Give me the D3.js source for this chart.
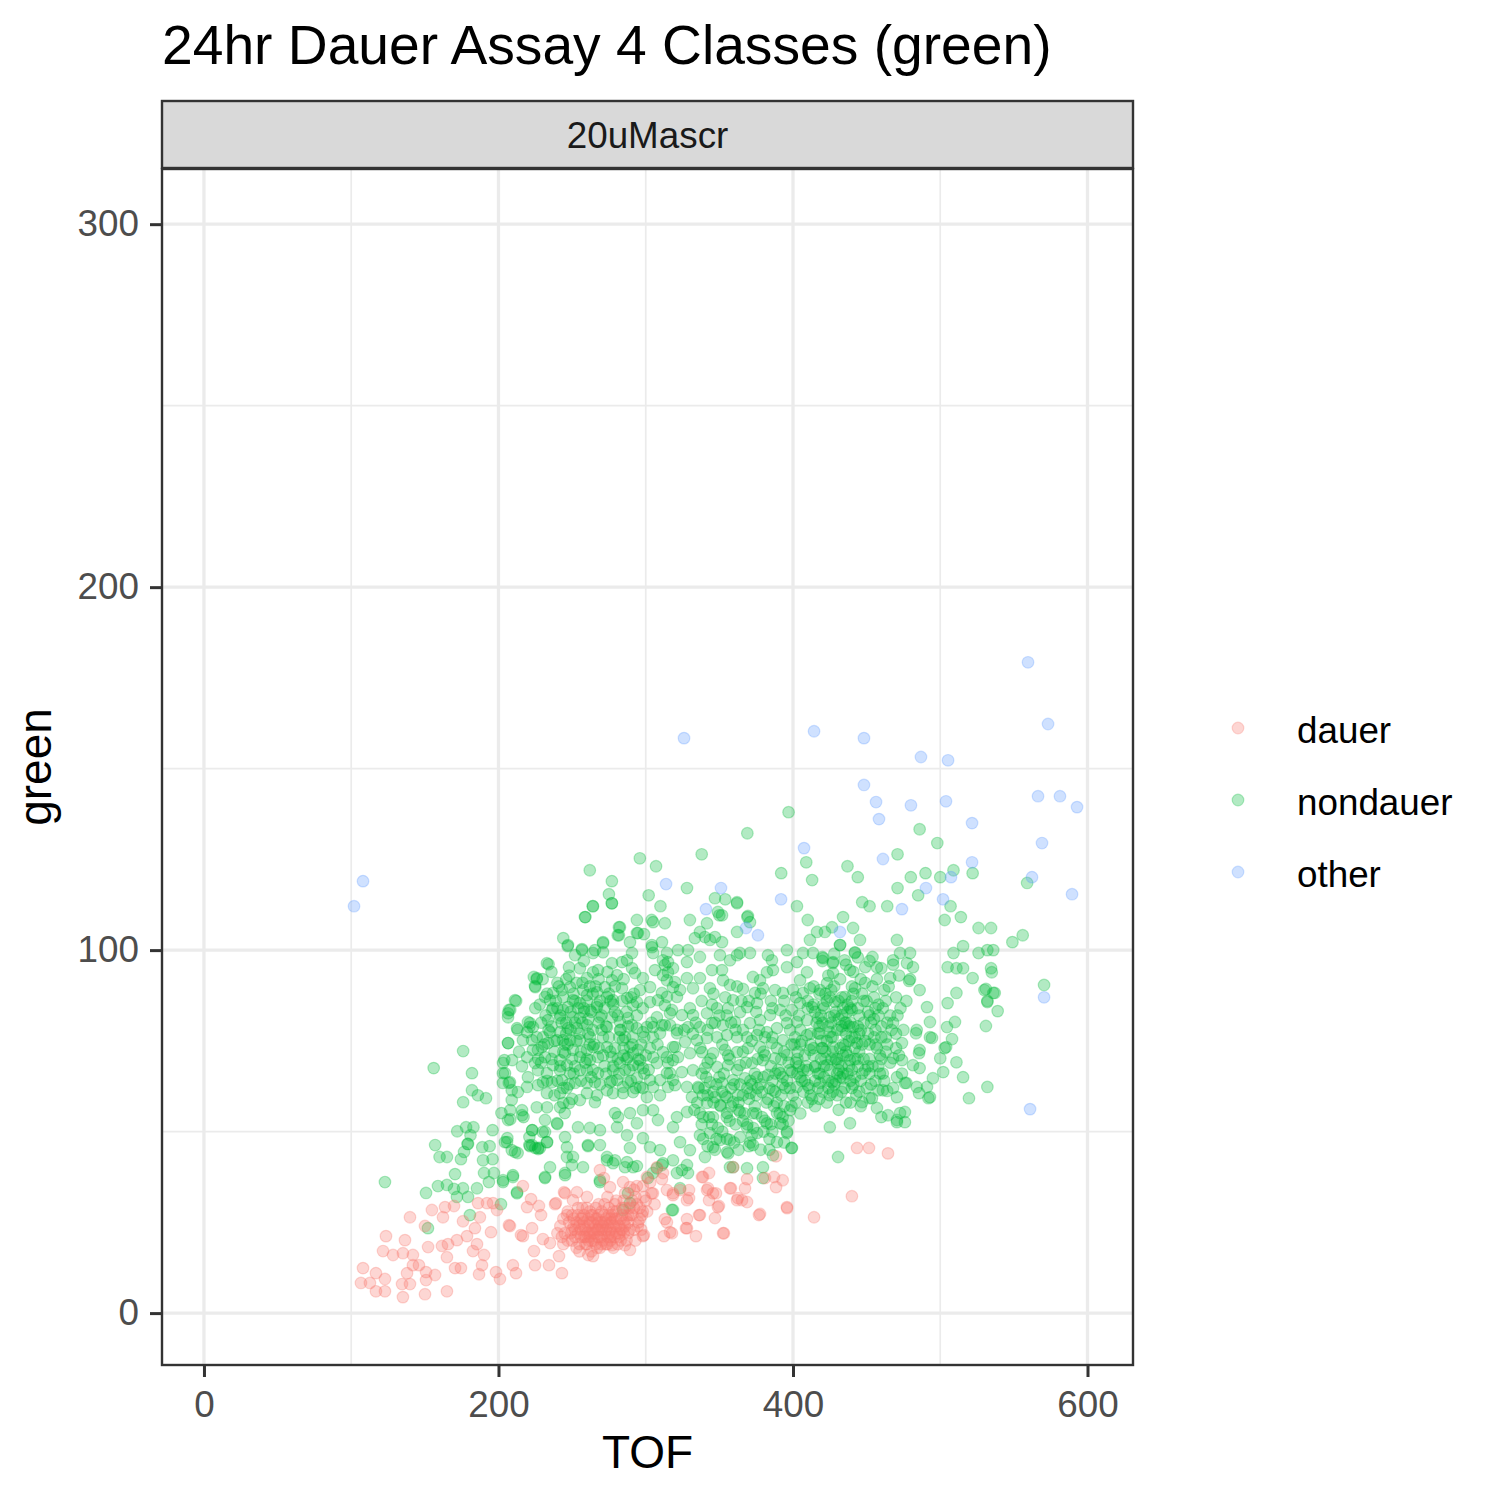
<!DOCTYPE html>
<html lang="en">
  <head>
    <meta charset="UTF-8"/>
    <title>24hr Dauer Assay 4 Classes (green)</title>
    <script src="https://d3js.org/d3.v7.min.js"></script>
    <style>
      body { margin: 0; background: #fff; }
      text { font-family: 'Liberation Sans', Arial, sans-serif; }
      .grid-major { stroke: #ebebeb; stroke-width: 3.3; }
      .grid-minor { stroke: #ebebeb; stroke-width: 1.7; }
      .axis .domain { display: none; }
      .axis line { stroke: #333333; stroke-width: 3; }
      .axis text { fill: #4d4d4d; font-size: 36.8px; }
    </style>
  </head>
  <body>
    <script>

      const titleText = "24hr Dauer Assay 4 Classes (green)"
      const facetLabel = "20uMascr"
      const xLabel = "TOF"
      const yLabel = "green"

      const classes = ["dauer", "nondauer", "other"]
      const classColors = ["#F8766D", "#00BA38", "#619CFF"]

      const xTicks = [0, 200, 400, 600]
      const yTicks = [0, 100, 200, 300]
      const xMinor = [100, 300, 500]
      const yMinor = [50, 150, 250]

      // [TOF, green]
      const otherPts = [
        [101.9,112.1],[108,119],[326,158.4],[313.8,118.2],[351.1,117.1],[340.9,111.3],[368.1,106.1],[376.2,104.1],
        [391.9,114],[407.5,128.1],[414.3,160.3],[431.9,105],[448.2,158.4],[448.2,145.5],[456.4,140.8],[458.4,136.1],
        [461.1,125.1],[480.1,139.9],[486.9,153.2],[490.3,117.1],[501.9,114],[503.9,141],[505.3,152.3],[507.3,120.1],
        [521.6,135],[521.6,124.2],[559.6,179.3],[573.2,162.3],[566.4,142.4],[581.3,142.4],[592.9,139.4],[569.1,129.5],
        [562.3,120.1],[589.5,115.4],[570.5,87],[561,56.2],[474,111.3]
      ]

      const dauerPts = [
        [108,12.4],[106.6,8.3],[112.7,8.3],[116.8,11],[116.8,6],[122.9,9.4],[122.9,6],[123.6,21.2],[121.6,17.1],[128.4,16],
        [135.1,16.5],[136.5,20.1],[135.1,4.4],[134.5,8],[139.9,8],[137.9,11],[141.9,16],[141.9,13.2],[146,13.2],[150.1,5.2],
        [150.8,9.1],[150.8,11.3],[156.9,10.5],[152.2,18.2],[150.1,24],[139.9,26.4],[154.8,28.4],[161.6,18.5],[165,6],[165,15.4],
        [162.3,26.4],[163.7,29.2],[165.7,19],[171.8,20.1],[170.5,12.4],[174.5,12.4],[175.9,25.3],[169.8,29.5],[178.6,21.2],[182.7,17.1],
        [184,23.4],[185.4,19],[186.8,10.7],[188.8,13.2],[190.2,16],[187.4,26.4],[186.1,30.3],[192.2,30.3],[194.9,22.3],[196.3,30.3],
        [198.3,11.3],[201,9.4],[199,28.4],[207.1,24.2],[209.8,13.2],[211.9,11],[216.6,35],[216.6,21.2],[219.4,29.2],[222.1,31.4],
        [222.8,23.4],[224.1,17.1],[224.8,13.2],[227.5,29.5],[228.9,27],[230.2,20.4],[234.3,13.2],[235,19.3],[239,30.3],[241.1,15.7],
        [243.1,11],[244.5,33.3],[246.5,27],[253.3,33.3],[250.6,31.1],[260.1,32],[264.2,15.7],[277.1,18.7],[285.9,18.7],[289.3,17.4],
        [298.1,21.2],[294.7,24],[297.5,27],[289.3,34.7],[284.6,36.1],[304.9,33],[311,36.9],[313,25.9],[312.4,21.2],[316.5,22.3],
        [318.5,33],[328,25.9],[328,23.4],[329.4,33.9],[329.4,31.7],[334.1,21.2],[336.8,27],[338.9,37.5],[343,38.6],[343,31.1],
        [341.6,33.9],[347,26.2],[349.7,29.5],[347.7,33],[352.5,22],[357.9,34.4],[362,31.1],
        [443.5,45.5],[451.6,45.5],[464.5,44],[440,32.2],[414.3,26.4],[396,28.9],[377.6,27.3],[365.4,31.1],[367.4,34.4],[381,37.2],[393,36.6],
        [207.8,24],[215.3,21.5],[238.4,30],[245.2,33],[268.9,39.4],[271.6,37.2],[275.7,34.7],[294,35],[300.8,37.5],[307.6,40.2],
        [311.7,38.6],[314.4,33.9],[318.5,32.5],[323.3,33.9],[328,31.1],[338.2,37.5],[342.3,34.4],[345.7,33],[349,29.2],[357.2,34.4],
        [362.6,31.7],[368.8,30.6],[368.8,36.9],[359.3,40.2],[376.9,27],[387.1,37.5],[388.5,34.7],[395.9,29.2],[388.5,43.2],[353.1,22],
        [327.3,23.4],[336.2,27],[317.8,22],[314.4,25],[298.8,21.5],
        [245,22],[248,25],[250,20],[252,23],[254,27],[256,21],[258,24],[259,19],[261,26],[262,22],[264,25],[265,20],[267,23],
        [268,27],[270,21],[271,24],[273,26],[274,19],[276,23],[277,25],[279,21],[280,28],[282,24],[283,26],[285,22],[286,29],
        [288,25],[290,27],[292,23],[294,30],[296,26],[298,28],[300,31],[253,18],[257,29],[263,17],[269,18],[275,29],[281,19],
        [287,20],[291,31],[242,24],[244,19],[247,28],[251,26],[255,24],[260,22],[266,26],[272,22],[278,24],[284,27],[289,23],
        [295,25],[262,28],[268,30],[274,32],[280,31],[286,33],[292,34],[298,35],[304,33],[258,21],[264,23],[270,25],[276,21],
        [249,22],[255,19],[261,24],[267,21],[273,23],[279,26],[285,25],[257,26],[263,20],[269,24],[275,27],
        [247,20],[251,24],[254,22],[256,26],[259,23],[261,20],[263,27],[266,24],[268,21],[270,28],[272,25],[275,22],[277,27],
        [280,24],[282,21],[284,29],[287,26],[289,29],[291,27],[293,32],[296,29],[299,32],[301,28],[303,36],[306,30],[285,31],
        [279,30],[272,30],[266,29],[260,29],[254,29],[250,27],[244,26],[240,22],[243,21],[255,17],[261,16],[267,18],[273,19],
        [278,18],[283,20],[288,22],[293,20],[297,23],[264,22],[270,23],[276,25],[258,25],[252,21],[267,26],
        [256,23],[259,21],[262,25],[265,22],[268,25],[271,20],[274,24],[277,22],[280,26],[283,23],[260,19],[266,19],[272,27],
        [278,28],[264,27],[258,27],[270,19],[276,20],[282,22],[286,24],[253,25],[250,23],[262,21],[268,23],[274,21],[280,22],
        [288,27],[292,29],[284,23],[276,26]
      ]

      const nondauerPts = [
        // sparse left / upper left
        [156,67.5],[176,72.2],[182,66.1],[182,61.4],[186,60],[191.5,59.2],[176,58.1],[157,46.3],[172,50.1],[178,51.2],
        [183,51.2],[181,49],[196,50.4],[189,45.7],[194,46],[179,46.6],[174.5,42.4],[165,43],[160,43],[189.5,42.1],
        [196,42.4],[202,55.1],[206.5,74.4],[204,69.7],[203,66.1],[203,63.4],[207,63.4],[209,61.4],[209,58.7],[208,55.9],
        [208,53.4],[206,48.2],[209,44.9],[213,44.1],[216,55.9],[217,54],[221,48.5],[223,50.4],[225,45.5],[227,45.2],
        [221,46.3],[230,49.9],[233,47.1],[226,56.7],[233,56.7],[240,52.1],[245,55.1],[244,57.9],[248,57.9],[206.5,82.6],
        [208,83.5],[212,86],[213,78],[220,80.2],[221,78.8],[224,92.6],[226,92],[225,89.8],[234,96.1],[244,103.3],
        [247,101.1],[259,109.1],[264,112.1],[262,122],[277,119],[275,115.4],[277,112.9],[296,125.3],[307,123.1],[302,115.1],
        [310,112.1],[282.5,106.3],[281,104.1],[294,108.3],[304,108.3],[313,107.4],[311,102.2],
        [252,98.6],[256.7,100.3],[264.2,99.2],[271,101.9],[294.7,104.7],[304.2,100.8],[311.7,97.2],
        // sparse upper / right
        [397,138],[369,132.2],[338,126.4],[486,133.3],[498,129.5],[471,126.4],[409,124.2],[392,121.2],[413,119.3],[437,123.1],
        [444,120.1],[328,117.1],[347,114.3],[354,114],[362,113.2],[350,109.6],[369,109.1],[330,108.3],[402.7,112.1],[410,108.3],
        [434,109.1],[447,113.2],[452,112.1],[464,112.1],[471,117.1],[480,120.1],[490,121.2],[500,120.1],[509,122],[522,121.2],
        [485,115.1],[507,112.1],[514,109.1],[503,108.3],[526,106.1],[534.5,106.1],[556,104.1],[549,102.2],[559,118.5],[532,100],
        [526,99.2],[536,100],[515.5,101.1],[509,99.2],[505,95.3],[511,95],[515.5,95],[522,92.3],[534.5,95],[535,93.9],
        [530,89],[537,88.2],[532,85.7],[539,83.2],[531,79.1],[570.5,90.4],[511,88.2],[505,85.4],[510,80.2],[504.6,78.8],
        [508,75.5],[503,73],[500,70.2],[511,69.1],[515.5,65],[502,66.4],[532,62.3],[519.5,59.2],[495,64.7],[491,62.3],
        [492,59.2],[485.6,60.6],[484,62.3],[477,63.4],[476,55.4],[470.6,52.6],[464.5,54.5],[461,61.4],[452,59.2],[430.6,43],
        [399,45.5],
        [531,89.3],[536,88.2],[532,86],[504,73.3],[493,59.5],[479.5,92],[486,89],[491,84.3],[493,80.2],[484,78],
        [483.5,77.1],[493,76],[494.4,75.8],[486,72.5],[485.6,71.6],[486,67.5],[474,74.4],[474,69.7],[468,70.2],[481.5,68.3],
        [470.6,65],[476,63.4],[470.6,59.5],[464,61.2],[458,61.4],[457,56.5],[460,54],[472.7,55.1],[476,52.6],[470.6,53.2],
        [447,58.1],[453.6,59.2],[438.7,52.3],[425,51.2],[478.8,91.5],[481.5,95.3],[477.4,96.4],[472.7,99.2],[466,92.3],[468,97.2],
        [479.5,99.2],[442,99.2],[454,98.1],[449,95.3],[457,95.3],[435,97.2],[427,96.4],[420,98.1],[432,101.4],[445.5,102.8],
        [470.6,102.8],
        // left blob
        [264.2,112.1],[277,112.9],[258.7,109.1],[305,107.7],[281.8,106.3],[281.8,104.1],[294,104.7],[298.8,104.4],[247.2,101.4],[256.7,100],
        [265.5,100],[271,102.2],[271,99.4],[289.3,102.2],[290.7,99.2],[304.2,101.4],[305,99.2],[287.3,97.2],[283.9,96.7],[232.9,96.4],
        [226.1,92.3],[224.8,90.1],[247.9,95.3],[255.3,95],[260.1,92.3],[264.2,93.9],[267.6,94.5],[277.1,96.4],[280.5,93.1],[277.1,91.7],
        [290.7,95],[292.7,93.7],[298.1,92.3],[302.9,89.8],[296.1,89],[306.3,94.5],[313,95.9],[315.1,93.9],[314.4,91.7],[311,88.2],
        [318.5,89.8],[321.2,87.1],[243.1,89],[248.6,89.8],[257.4,89],[260.1,87.6],[266.9,88.4],[272.3,89.8],[273.7,87.1],[277.8,86.2],
        [283.9,89.5],[287.3,86.8],[291.4,84.8],[294,85.7],[302.9,85.7],[308.3,86.2],[313,84.8],[317.8,83.5],[307.6,81.5],[305,78.8],
        [311,79.3],[316.5,79.3],[309.7,77.1],[305,76],[300.8,78.8],[298.1,77.4],[294,78.5],[287.9,81.3],[290.7,79.3],[282.5,80.2],
        [282.5,78],[284.6,75.2],[289.3,73.3],[291.4,71.6],[287.9,70.5],[294.7,72.5],[296.1,69.7],[291.4,68.3],[298.1,67.5],[305,70.5],
        [307.6,68.9],[311.7,71.9],[315.1,68.9],[314.4,66.1],[309.7,64.2],[302.9,64.2],[305,62.3],[294,64.7],[287.9,63.6],[284.6,62.3],
        [280.5,64.2],[277.8,66.9],[282.5,68.9],[277.1,70.5],[273.7,73.3],[271,76],[273.7,78.8],[277.1,81.5],[268.9,81.5],[266.9,84.3],
        [262.1,83.5],[255.3,85.4],[250.6,86.2],[247.2,84.3],[243.8,83.5],[241.8,81.3],[250.6,81.5],[255.3,81.3],[260.1,79.3],[253.3,78.5],
        [247.2,78.5],[241.8,77.4],[243.8,75.2],[239.7,75.2],[248.6,75.2],[255.3,75.2],[262.1,76],[264.2,73.3],[260.1,72.5],[267.6,70.5],
        [262.1,69.7],[255.3,70.5],[250.6,72.5],[245.2,71.6],[241.8,69.7],[246.5,68.3],[241.8,66.9],[237,68.3],[231.6,70.5],[229.5,73.3],
        [226.8,72.5],[233.6,74.4],[230.2,76],[235,77.4],[233.6,80.7],[236.3,83.5],[235,86.2],[231.6,87.1],[237,88.2],[223.4,78.8],
        [221.4,79.9],[219.4,77.4],[222.8,75.2],[216.6,75.2],[223.4,72.5],[219.4,70.5],[224.8,68.9],[226.8,66.9],[232.9,66.1],[236.3,63.6],
        [230.2,63.6],[243.1,64.2],[248.6,66.1],[255.3,66.9],[260.1,66.9],[267.6,66.1],[265.5,63.6],[260.1,63.4],[252,63.4],[246.5,62],
        [241.8,60.6],[232.9,60.6],[226.8,62.8],[219.4,62.3],[213.2,60.9],[207.8,63.6],[204.4,66.1],[203.1,68.9],[209.2,69.7],[206.5,74.4],
        [212.6,78.5],[211.2,86.2],[207.1,83.5],[206.5,81.5],[275.7,63.6],[273.7,61.4],[277.8,60.6],[284.6,60.6],[291.4,60.9],[296.1,62.3],
        [300.8,59.5],[309.7,60],[315.1,62.3],[318.5,64.2],[318.5,69.7],[319.9,73.3],[321.2,77.1],[260.1,60.6],[266.9,60],
        [252,86],[258,83],[246,80],[270,78],[262,74],[250,70],[276,72],[286,76],[240,84],[264,88],
        [228,85],[232,82],[236,79],[239,86],[243,80],[246,77],[249,83],[252,80],[255,77],[258,84],[261,81],[264,78],[267,85],
        [270,82],[273,79],[276,86],[279,83],[282,76],[285,73],[288,79],[291,76],[294,82],[297,74],[300,71],[238,72],[242,68],
        [247,74],[251,66],[256,72],[259,69],[263,65],[268,73],[272,68],[277,64],[281,70],[286,67],[290,64],[295,70],[299,66],
        [303,73],[230,92],[236,94],[241,90],[246,92],[253,91],[258,97],[262,90],[268,92],[274,94],[279,90],[285,92],[292,88],
        [298,84],[304,80],[308,74],[226,76],[229,69],[233,64],[238,60],[244,62],[250,59],[216,68],[220,65],[214,72],
        [233,88],[237,84],[240,91],[244,87],[248,93],[251,88],[254,84],[257,91],[260,86],[263,83],[266,90],[269,86],[272,84],
        [275,88],[278,85],[281,82],[284,86],[287,83],[290,87],[234,78],[238,75],[242,82],[245,74],[249,78],[253,75],[257,80],
        [261,77],[265,74],[268,80],[271,71],[275,76],[279,73],[283,78],[287,70],[291,74],[295,68],[299,76],[236,70],[240,64],
        [244,72],[248,63],[252,68],[256,64],[260,70],[264,67],[269,63],[273,66],[278,68],[282,66],[285,71],[289,67],[293,62],
        [298,62],[302,67],[229,80],[225,84],[231,74],[227,70],
        // middle
        [336.8,105],[341.6,107.4],[351.8,109.6],[349,110.5],[362,112.9],[369.4,109.4],[362,105],[370.8,107.7],[440.8,106.1],[333.4,103.3],
        [340.2,103.6],[343.6,102.8],[347,103.6],[351.8,102.2],[364,99.2],[370.8,99.2],[357.2,97.2],[362,98.6],[350.4,98.6],[336.8,98.1],
        [328.7,100],[321.9,100],[314.4,99.2],[328,96.7],[318.5,95],[315.1,96.7],[311.7,93.1],[319.9,91.2],[328,92.3],[336.8,92.3],
        [345,94.5],[351.8,94.5],[352.5,91.7],[357.2,90.4],[343.6,89.5],[332.1,89.5],[323.3,89],[314.4,87.1],[366,89.3],[359.3,86.2],
        [372.8,92.6],[377.6,91.7],[382.3,93.9],[386.4,94.5],[385.7,97.2],[383,98.6],[395.9,100],[395.9,95.3],[402.7,96.7],[404.8,91.7],
        [409.5,93.9],[406.8,99.2],[413.6,99.2],[411.5,102.8],[416.3,105],[421.7,105],[426.5,106.3],[431.9,101.4],[420.4,97.8],[427.2,96.7],
        [442.1,99.4],[438.7,94.5],[427.2,93.7],[423.1,90.9],[418.3,89],[411.5,89.5],[406.8,88.2],[400,89],[393.2,88.2],[387.8,89],
        [379.6,89.5],[374.2,88.2],[375.6,85.4],[368.8,84.3],[364,82.9],[355.9,84],[348.4,84],[341.6,82.6],[332.1,82.1],[324.6,82.1],
        [316.5,82.6],[313,79.3],[321.2,78],[328.7,78.8],[336.8,78.8],[345,79.9],[352.5,79.3],[360.6,80.2],[370.8,79.9],[377.6,80.7],
        [384.4,82.1],[391.2,83.5],[399.3,83.5],[404.8,85.4],[412.9,84.3],[420.4,84.8],[428.5,85.7],[435.3,87.1],[442.1,89.5],[440,83.5],
        [433.3,82.1],[425.1,81.5],[417,81.3],[409.5,80.7],[402.7,80.2],[395.9,79.9],[389.1,78.5],[382.3,77.4],[375.6,76.6],[368.8,76],
        [362,76],[355.2,76.6],[348.4,76],[341.6,75.8],[334.8,75.2],[326.7,74.7],[318.5,73.3],[314.4,70.5],[321.9,70.5],[330,71.6],
        [338.2,71.9],[345.7,71.6],[353.8,72.5],[362,71.9],[369.4,73],[377.6,73.3],[385.7,74.4],[393.2,75.2],[401.4,76],[409.5,76.6],
        [417,77.1],[425.1,77.4],[433.3,78],[440.8,78.8],[443.5,74.4],[435.3,73.8],[427.2,73.3],[419.7,73],[411.5,72.5],[403.4,71.9],
        [395.9,71.1],[387.8,70.2],[379.6,69.7],[372.2,68.9],[364,68.3],[355.9,68.3],[348.4,67.8],[340.2,67.5],[332.1,66.9],[324.6,66.4],
        [316.5,66.1],[319.9,62.8],[328,62.3],[335.5,62.3],[343.6,63.6],[351.8,63.4],[359.3,64.2],[367.4,64.7],[375.6,65],[383,65.6],
        [391.2,66.1],[399.3,66.4],[406.8,66.9],[414.9,67.8],[423.1,68.3],[430.6,68.9],[438.7,69.7],[442.1,65],[434,64.7],[426.5,63.6],
        [418.3,63.4],[410.2,62.8],[402.7,62.3],[394.6,62],[386.4,61.4],[378.9,60.9],[370.8,60.6],[362.6,60],[355.2,59.5],[347,59.5],
        [338.9,60],[331.4,59.5],
        [332,77],[337,73],[342,69],[347,80],[352,74],[357,70],[361,78],[366,72],[371,64],[376,70],[381,76],[385,68],[389,73],
        [393,63],[397,69],[401,74],[405,65],[408,71],[412,77],[415,64],[419,70],[423,75],[427,61],[431,67],[436,72],[440,62],
        [444,68],[335,58],[341,65],[346,61],[353,66],[358,62],[363,58],[369,62],[374,57],[378,63],[383,59],[388,66],[392,60],
        [396,64],[402,58],[407,61],[413,59],[418,66],[424,64],[429,70],[434,66],[438,75],[345,85],[355,82],[365,86],[375,83],
        [385,86],[395,82],[405,78],[415,83],[425,87],[435,80],[445,77],[338,52],[352,50],[366,53],[380,50],[393,52],[342,46],
        [356,44],[370,46],[384,45],
        [372,75],[377,78],[381,71],[386,76],[390,67],[394,72],[398,78],[402,69],[406,75],[410,67],[414,73],[418,79],[422,70],
        [426,76],[430,66],[434,71],[438,79],[442,70],[447,74],[451,68],[455,76],[459,66],[463,72],[375,60],[380,65],[384,62],
        [389,58],[393,65],[398,62],[403,66],[408,64],[412,60],[417,62],[421,65],[425,60],[429,64],[433,61],[437,66],[441,63],
        [445,61],[449,67],[453,63],[420,80],[428,82],[436,77],[444,79],[452,82],[460,76],[414,85],[422,88],[431,86],[439,84],
        [448,86],[456,84],[464,80],[470,77],
        [333,56],[339,54],[345,52],[351,57],[357,53],[363,56],[369,52],[375,55],[381,53],[387,57],[393,54],[399,57],[405,55],
        [336,62],[342,60],[348,63],[354,60],[360,63],[366,60],[372,63],[339,48],[347,45],[355,48],[363,45],[371,47],[378,45],
        [386,50],[394,47],
        [330,84],[338,86],[346,88],[354,87],[362,90],[370,86],[378,88],[386,84],[394,86],[402,87],[410,84],[326,78],[334,80],
        [342,78],[350,82],[358,80],[366,78],
        // lower band
        [206.5,53.2],[216,54.5],[204.4,47.1],[211.2,44.4],[222.8,50.4],[231.6,53.2],[231.6,49.9],[226.8,45.5],[221.4,46],[239.7,52.3],
        [235,40.2],[245.2,48.5],[246.5,45.7],[250.6,43],[249.9,40.8],[257.4,40.2],[245.2,38],[231.6,37.5],[209.8,38],[203.1,36.6],
        [212.6,33],[254,51.2],[262.1,51],[268.9,50.4],[260.8,46.3],[268.9,46.3],[273.7,43],[279.1,42.1],[287.3,41.6],[294,40.5],
        [281.2,54],[287.3,49],[289.3,45.5],[280.5,51.2],[294,52.3],[298.1,48.2],[302.9,45.7],[309.7,44.9],[311.7,41.3],[307.6,39.9],
        [318.5,42.1],[323.3,47.1],[318.5,51.2],[308.3,53.2],[305,55.9],[298.1,55.9],[289.3,55.1],[279.1,55.1],[265.5,58.1],[255.3,58.7],
        [241.8,56.7],[330,44.9],[328,40.8],[324.6,39.4],[340.2,43],[345.7,45.7],[355.2,44.4],[359.3,40.2],[368.8,39.9],[379.6,40.2],
        [379.6,37.2],[389.1,47.1],[386.4,43.5],[399.3,45.5],[336.8,49],[343.6,49.6],[350.4,47.7],[357.2,47.7],[364,48.5],[372.8,46.3],
        [375.6,49.6],[368.8,51.2],[382.3,52.3],[391.2,52.3],[395.9,49.6],[389.1,55.1],[398,55.9],[336.8,55.1],[345.7,54],[355.2,55.1],
        [364,55.4],[372.8,55.1],[341.6,57.9],[350.4,57.3],[359.3,58.1],[328,55.4],[321.2,54],[284.6,28.4],[288,33],[318.5,28.4],
        [289.3,30.3],[268.9,36.6],
        [122.9,36.1],[150.8,33.1],[158.9,35],[165,35.3],[170.5,38.3],[169.8,34.2],[171.8,32],[175.9,34.4],[179.3,32],[185.4,34.4],
        [190.2,38.6],[193.5,36.1],[196.9,38.6],[203.1,36.1],[209.8,37.5],[212.6,33.3],[201.7,30],[180.6,27],[152.1,23.4],[176.6,44.4],
        [179.3,46.6],[205.8,47.1],[222.8,46.3],[228.2,45.5],[232.9,47.1],[231.6,37.2],[245.2,38.6],[246.5,43],[260.8,46],[268.9,36.1],
        [273.7,42.1],[277.8,41.3],[285.9,40.2],[291.4,40.2],[301.5,37.2],[304.9,38.6],[311,40.8],[317.8,28.4],[321.2,38.6],[328.7,38.6],
        [323.3,34.4],[357.2,40.2],
        // right cluster
        [420,97],[428,99],[436,96],[444,98],[452,97],[460,95],[468,96],[424,93],[432,92],[441,94],[449,91],[457,92],[465,90],[472,93],
        [418,88],[426,89],[433,87],[440,90],[447,88],[455,87],[462,89],[470,87],[477,86],
        [421,84],[429,83],[437,85],[444,84],[451,83],[458,85],[466,82],[473,84],
        [416,80],[424,79],[431,81],[439,80],[446,78],[453,80],[460,79],[468,80],[475,78],
        [419,75],[427,76],[434,74],[442,76],[449,75],[456,74],[463,76],[470,73],
        [414,71],[422,72],[430,70],[437,71],[445,72],[452,70],[459,71],[466,69],[472,71],
        [417,66],[425,67],[432,65],[440,67],[447,66],[454,68],[461,66],
        [411,62],[420,61],[428,63],[435,62],[443,60],[450,62],[456,64],
        [415,57],[423,58],[431,56],[439,58],[446,57],
        [430,78],[436,80],[442,73],[448,70],[433,68],[439,64],[445,82],[451,77],[457,73],[427,72],[421,68],[434,84],[440,86],[455,81],
        [461,84],[426,80],[418,77],[412,74],[409,68],[406,64],[403,70],[399,74],
        [404,82],[410,86],[414,90],[419,82],[423,86],[428,90],[433,79],[437,83],[441,88],[446,92],[450,86],[454,90],[458,82],
        [463,86],[467,78],[471,82],[448,80],[452,74],[456,78],[460,70],[464,74],[444,70],[438,68],[432,73],[426,70],[420,73],
        [415,68],[440,76],[446,64],[452,66],[458,68],[462,64],[468,62],[474,66],[436,58],[430,60],[424,62],[418,59],[410,58],[405,74],
        // middle-lower core
        [340,62],[346,58],[352,61],[358,57],[364,63],[370,59],[376,62],[382,58],[388,61],[394,57],[400,60],[343,54],[349,51],[355,54],
        [361,52],[367,55],[373,51],[379,54],[385,52],[391,55],[397,53],[338,66],[350,65],[362,67],[374,66],[386,64],[398,67],[344,70],
        [356,71],[368,69],[380,72],[392,70],[404,68],[348,48],[360,47],[372,49],[384,48],[396,50]
      ]

      const series = [dauerPts, nondauerPts, otherPts]
      const drawOrder = [1, 0, 2]

      const outerWidth = 1500,
            outerHeight = 1500,
            panel = ({left: 162, right: 1133, top: 169, bottom: 1365}),
            strip = ({top: 100, bottom: 168}),
            pointRadius = 5.8

      const svg = d3.select("body").append("svg")
          .attr("width", outerWidth)
          .attr("height", outerHeight)
          .style("background", "#fff")

      const xScale = d3.scaleLinear()
          .domain([-28.5, 630.9])
          .range([panel.left, panel.right])

      const yScale = d3.scaleLinear()
          .domain([-14.3, 315.2])
          .range([panel.bottom, panel.top])

      // grid lines
      const grid = svg.append("g")
      grid.selectAll(".gx-minor").data(xMinor).join("line")
          .attr("class", "grid-minor")
          .attr("x1", d => xScale(d)).attr("x2", d => xScale(d))
          .attr("y1", panel.top).attr("y2", panel.bottom)
      grid.selectAll(".gy-minor").data(yMinor).join("line")
          .attr("class", "grid-minor")
          .attr("y1", d => yScale(d)).attr("y2", d => yScale(d))
          .attr("x1", panel.left).attr("x2", panel.right)
      grid.selectAll(".gx-major").data(xTicks).join("line")
          .attr("class", "grid-major")
          .attr("x1", d => xScale(d)).attr("x2", d => xScale(d))
          .attr("y1", panel.top).attr("y2", panel.bottom)
      grid.selectAll(".gy-major").data(yTicks).join("line")
          .attr("class", "grid-major")
          .attr("y1", d => yScale(d)).attr("y2", d => yScale(d))
          .attr("x1", panel.left).attr("x2", panel.right)

      // points
      const pts = svg.append("g")
      drawOrder.forEach(i => {
        pts.append("g")
            .attr("fill", classColors[i])
            .attr("stroke", classColors[i])
            .attr("fill-opacity", 0.3)
            .attr("stroke-opacity", 0.3)
            .attr("stroke-width", 1.2)
          .selectAll("circle")
          .data(series[i])
          .join("circle")
            .attr("cx", d => xScale(d[0]))
            .attr("cy", d => yScale(d[1]))
            .attr("r", pointRadius)
      })

      // panel border
      svg.append("rect")
          .attr("x", panel.left)
          .attr("y", panel.top)
          .attr("width", panel.right - panel.left)
          .attr("height", panel.bottom - panel.top)
          .attr("fill", "none")
          .attr("stroke", "#333333")
          .attr("stroke-width", 2.4)

      // facet strip
      svg.append("rect")
          .attr("x", panel.left)
          .attr("y", strip.top + 1)
          .attr("width", panel.right - panel.left)
          .attr("height", strip.bottom - strip.top - 1)
          .attr("fill", "#d9d9d9")
          .attr("stroke", "#333333")
          .attr("stroke-width", 2.4)
      svg.append("text")
          .attr("x", (panel.left + panel.right) / 2)
          .attr("y", 148)
          .attr("text-anchor", "middle")
          .attr("fill", "#1a1a1a")
          .style("font-size", "36.8px")
          .text(facetLabel)

      // axes
      svg.append("g")
          .attr("class", "axis")
          .attr("transform", `translate(0,${panel.bottom})`)
          .call(d3.axisBottom(xScale).tickValues(xTicks).tickSize(12).tickPadding(14))
      svg.append("g")
          .attr("class", "axis")
          .attr("transform", `translate(${panel.left},0)`)
          .call(d3.axisLeft(yScale).tickValues(yTicks).tickSize(12).tickPadding(11))

      // axis titles
      svg.append("text")
          .attr("x", (panel.left + panel.right) / 2)
          .attr("y", 1468)
          .attr("text-anchor", "middle")
          .style("font-size", "46px")
          .text(xLabel)
      svg.append("text")
          .attr("transform", `translate(51,${(panel.top + panel.bottom) / 2}) rotate(-90)`)
          .attr("text-anchor", "middle")
          .style("font-size", "46px")
          .text(yLabel)

      // title
      svg.append("text")
          .attr("x", panel.left)
          .attr("y", 64)
          .style("font-size", "55.2px")
          .text(titleText)

      // legend
      const legend = svg.append("g")
          .attr("transform", "translate(1238,728)")
      const item = legend.selectAll("g")
          .data(classes)
          .join("g")
            .attr("transform", (d, i) => `translate(0,${i * 72})`)
      item.append("circle")
          .attr("r", pointRadius)
          .attr("fill", (d, i) => classColors[i])
          .attr("stroke", (d, i) => classColors[i])
          .attr("fill-opacity", 0.3)
          .attr("stroke-opacity", 0.3)
          .attr("stroke-width", 1.2)
      item.append("text")
          .attr("x", 59)
          .attr("y", 15)
          .style("font-size", "36.8px")
          .text(d => d)

    </script>
  </body>
</html>
